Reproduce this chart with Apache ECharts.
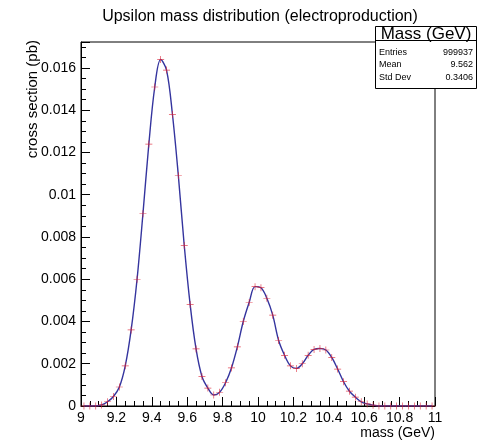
<!DOCTYPE html>
<html>
<head>
<meta charset="utf-8">
<script src="https://cdn.jsdelivr.net/npm/echarts@6/dist/echarts.min.js"></script>
<style>
  html, body { margin: 0; padding: 0; background: #fff; }
  #chart { width: 477px; height: 440px; }
</style>
</head>
<body>
<div id="chart"></div>
<script>
// Upsilon mass spectrum, 60 bins of 1/30 GeV between 9 and 11 GeV
const massBins = [
  9.0167, 9.0500, 9.0833, 9.1167, 9.1500, 9.1833, 9.2167, 9.2500, 9.2833, 9.3167,
  9.3500, 9.3833, 9.4167, 9.4500, 9.4833, 9.5167, 9.5500, 9.5833, 9.6167, 9.6500,
  9.6833, 9.7167, 9.7500, 9.7833, 9.8167, 9.8500, 9.8833, 9.9167, 9.9500, 9.9833,
  10.0167, 10.0500, 10.0833, 10.1167, 10.1500, 10.1833, 10.2167, 10.2500, 10.2833, 10.3167,
  10.3500, 10.3833, 10.4167, 10.4500, 10.4833, 10.5167, 10.5500, 10.5833, 10.6167, 10.6500,
  10.6833, 10.7167, 10.7500, 10.7833, 10.8167, 10.8500, 10.8833, 10.9167, 10.9500, 10.9833
];
// cross section per bin (pb)
const crossSection = [
  0, 0, 0, 0.00005, 0.0002, 0.00045, 0.0009, 0.0019, 0.0036, 0.0060,
  0.0091, 0.0124, 0.0151, 0.0164, 0.0159, 0.0138, 0.0109, 0.0076, 0.0048, 0.0027,
  0.0014, 0.00085, 0.00052, 0.00065, 0.0011, 0.0018, 0.0028, 0.0040, 0.0049, 0.00565,
  0.0056, 0.0051, 0.0043, 0.0031, 0.0024, 0.0019, 0.00178, 0.0020, 0.0024, 0.00268,
  0.00272, 0.00265, 0.0023, 0.00175, 0.00115, 0.0007, 0.00042, 0.0002, 0.0001, 0.00004,
  0, 0, 0, 0, 0, 0, 0, 0, 0, 0
];
const yTickValues = [0, 0.002, 0.004, 0.006, 0.008, 0.01, 0.012, 0.014, 0.016];
const statNames = ['Entries', 'Mean', 'Std Dev'];
const statValues = ['999937', '9.562', '0.3406'];

const points = massBins.map((m, i) => [m, crossSection[i]]);
const FONT = '"Liberation Sans", Arial, Helvetica, sans-serif';

const chart = echarts.init(document.getElementById('chart'), null, { renderer: 'canvas' });

// statistics box in the upper right corner
const statsGraphics = [
  { type: 'rect', left: 375, top: 26, z: 100,
    shape: { width: 101, height: 62 },
    style: { fill: '#fff', stroke: '#000', lineWidth: 1 } },
  { type: 'line', z: 101,
    shape: { x1: 375.5, y1: 40.5, x2: 476.5, y2: 40.5 },
    style: { stroke: '#000', lineWidth: 1 } },
  { type: 'text', x: 426, y: 34, z: 102,
    style: { text: 'Mass (GeV)', font: '17px ' + FONT, fill: '#000',
             textAlign: 'center', textVerticalAlign: 'middle' } }
];
statNames.forEach((n, i) => {
  const y = 52.5 + i * 12.5;
  statsGraphics.push({ type: 'text', x: 379, y: y, z: 102,
    style: { text: n, font: '9px ' + FONT, fill: '#000', textAlign: 'left', textVerticalAlign: 'middle' } });
  statsGraphics.push({ type: 'text', x: 473, y: y, z: 102,
    style: { text: statValues[i], font: '9px ' + FONT, fill: '#000', textAlign: 'right', textVerticalAlign: 'middle' } });
});

chart.setOption({
  animation: false,
  backgroundColor: '#fff',
  title: {
    text: 'Upsilon mass distribution (electroproduction)',
    left: 255, top: 4, textAlign: 'center',
    textStyle: { fontFamily: FONT, fontSize: 16, fontWeight: 'normal', color: '#000' }
  },
  grid: {
    left: 81, right: 42, top: 42, bottom: 34,
    show: true, borderColor: '#000', borderWidth: 1, backgroundColor: 'transparent'
  },
  xAxis: {
    type: 'value', min: 9, max: 11, interval: 0.2,
    name: 'mass (GeV)', nameLocation: 'end', nameGap: 0,
    nameTextStyle: { fontFamily: FONT, fontSize: 14, color: '#000', align: 'right',
                     verticalAlign: 'top', padding: [20, 0, 0, 0] },
    axisLine: { show: true, onZero: false, lineStyle: { color: '#000', width: 1 } },
    axisTick: { show: true, inside: true, length: 9, lineStyle: { color: '#000' } },
    minorTick: { show: true, splitNumber: 4, length: 5, lineStyle: { color: '#000' } },
    splitLine: { show: false },
    axisLabel: { fontFamily: FONT, fontSize: 14, color: '#000', margin: 5,
                 formatter: v => String(parseFloat(v.toFixed(1))) }
  },
  yAxis: {
    type: 'value', min: 0, max: 0.01723, interval: 0.002,
    axisLine: { show: true, onZero: false, lineStyle: { color: '#000', width: 1 } },
    axisTick: { show: true, inside: true, length: 9, lineStyle: { color: '#000' } },
    minorTick: { show: true, splitNumber: 4, length: 5, lineStyle: { color: '#000' } },
    splitLine: { show: false },
    axisLabel: {
      fontFamily: FONT, fontSize: 14, color: '#000', margin: 5, showMaxLabel: false,
      formatter: v => {
        const r = parseFloat(v.toFixed(3));
        return yTickValues.some(t => Math.abs(t - r) < 1e-9) ? String(r) : '';
      }
    }
  },
  graphic: [
    { type: 'text', x: 33, y: 40,
      rotation: Math.PI / 2,
      style: { text: 'cross section (pb)', font: '15px ' + FONT, fill: '#000',
               textAlign: 'right', textVerticalAlign: 'middle' } }
  ].concat(statsGraphics),
  series: [
    {
      type: 'line', data: points, smooth: 0.35, showSymbol: false, z: 3,
      lineStyle: { color: '#34349e', width: 1.4 },
      silent: true
    },
    {
      type: 'scatter', data: points, z: 4,
      symbol: 'path://M0,4.5H10V5.5H0Z M4.5,0H5.5V10H4.5Z',
      symbolSize: [7, 7],
      itemStyle: { color: '#dd2233' },
      silent: true
    }
  ]
});
</script>
</body>
</html>
